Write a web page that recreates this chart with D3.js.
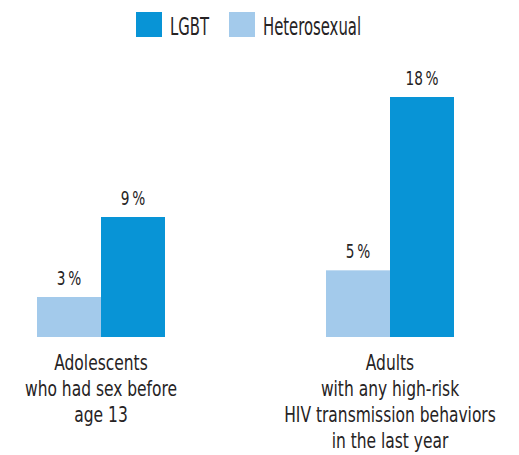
<!DOCTYPE html>
<html>
<head>
<meta charset="utf-8">
<script src="https://cdn.jsdelivr.net/npm/d3@7"></script>
<style>
  body { margin: 0; background: #fff; }
  text { font-family: "DejaVu Sans Condensed", "DejaVu Sans", sans-serif; fill: #262324; }
</style>
</head>
<body>
<div id="chart"></div>
<script>
var categories = ["Adolescents who had sex before age 13", "Adults with any high-risk HIV transmission behaviors in the last year"];
var categoryLines = [
    ["Adolescents", "who had sex before", "age 13"],
    ["Adults", "with any high-risk", "HIV transmission behaviors", "in the last year"]
];
var seriesNames = ["Heterosexual", "LGBT"];
var heterosexual = [3, 5];
var lgbt = [9, 18];
var legendOrder = ["LGBT", "Heterosexual"];

function init() {
    var w = 519;
    var h = 455;
    var baseline = 337;

    var colors = { "LGBT": "#0894d6", "Heterosexual": "#a3caeb" };

    var svg = d3.select("#chart")
        .append("svg")
        .attr("width", w)
        .attr("height", h);

    var x0 = d3.scaleBand()
        .domain(categories)
        .range([37, 454])
        .paddingInner(161 / 289);

    var x1 = d3.scaleBand()
        .domain(seriesNames)
        .range([0, x0.bandwidth()]);

    var y = d3.scaleLinear()
        .domain([0, 18])
        .range([baseline, 97]);

    var rows = [];
    categories.forEach(function (c, i) {
        rows.push({ cat: c, series: "Heterosexual", value: heterosexual[i] });
        rows.push({ cat: c, series: "LGBT", value: lgbt[i] });
    });

    // bars
    svg.selectAll("rect.bar")
        .data(rows)
        .enter()
        .append("rect")
        .attr("class", "bar")
        .attr("x", function (d) { return x0(d.cat) + x1(d.series); })
        .attr("y", function (d) { return y(d.value); })
        .attr("width", x1.bandwidth())
        .attr("height", function (d) { return baseline - y(d.value); })
        .attr("fill", function (d) { return colors[d.series]; });

    // value labels (squeezed horizontally to mimic a condensed face)
    svg.selectAll("text.val")
        .data(rows)
        .enter()
        .append("text")
        .attr("class", "val")
        .attr("transform", function (d) {
            var cx = x0(d.cat) + x1(d.series) + x1.bandwidth() / 2;
            return "translate(" + cx + "," + (y(d.value) - 12) + ") scale(0.8,1)";
        })
        .attr("text-anchor", "middle")
        .attr("font-size", "19px")
        .text(function (d) { return d.value + "\u2009%"; });

    // category labels
    categories.forEach(function (c, i) {
        var cx = x0(c) + x0.bandwidth() / 2;
        var t = svg.append("text")
            .attr("text-anchor", "middle")
            .attr("font-size", "20.5px")
            .attr("transform", "translate(" + cx + ",0) scale(0.84,1)");
        categoryLines[i].forEach(function (line, j) {
            t.append("tspan")
                .attr("x", 0)
                .attr("y", 370 + j * 26)
                .text(line);
        });
    });

    // legend
    var legendX = [136, 229];
    legendOrder.forEach(function (name, i) {
        svg.append("rect")
            .attr("x", legendX[i])
            .attr("y", 12)
            .attr("width", 26)
            .attr("height", 25)
            .attr("fill", colors[name]);
        svg.append("text")
            .attr("transform", "translate(" + (legendX[i] + 34) + ",35) scale(0.66,1)")
            .attr("font-size", "25px")
            .text(name);
    });
}

window.onload = init;
</script>
</body>
</html>
